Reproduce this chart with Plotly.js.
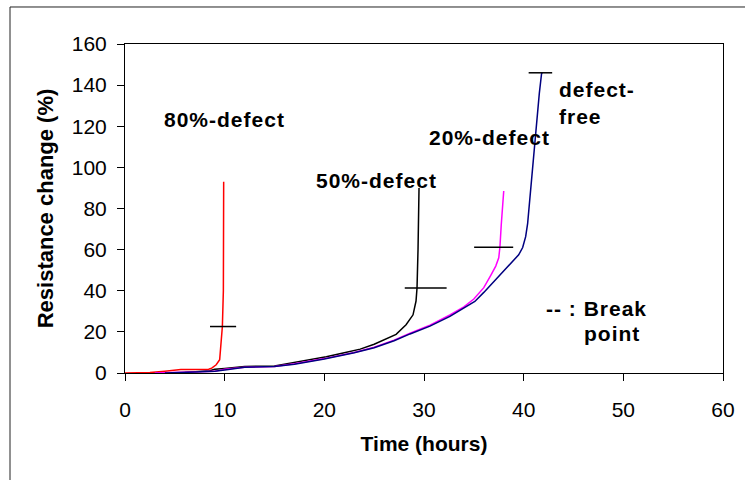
<!DOCTYPE html>
<html>
<head>
<meta charset="utf-8">
<script src="https://cdn.plot.ly/plotly-3.0.1.min.js"></script>
<style>html,body{margin:0;padding:0;background:#fff}#chart{width:745px;height:480px}</style>
</head>
<body>
<div id="chart"></div>
<script>
// 80%-defect (red)
var x80 = [0, 2.5, 4, 5.6, 7, 8.4, 8.7, 9.15, 9.5, 9.68, 9.77, 9.87, 9.9];
var y80 = [0, 0.2, 0.9, 1.7, 1.7, 1.8, 2.4, 4.0, 6.5, 16, 22.6, 40, 93];
// 50%-defect (black)
var x50 = [3, 6, 8.5, 9, 10, 12, 15, 17, 18, 20.2, 22, 23.6, 25, 27.2, 28.2, 28.9, 29.2, 29.3, 29.4, 29.5];
var y50 = [0, 0.3, 1.1, 1.8, 2.2, 3.2, 3.4, 5.0, 6.0, 7.9, 9.8, 11.6, 14, 18.8, 23.5, 28.3, 35, 41.3, 60, 90];
// 20%-defect (magenta)
var x20 = [3, 6, 9, 10, 12, 15, 17, 20, 23, 25, 27, 28.6, 30.6, 32.6, 34, 35, 36, 36.7, 37.2, 37.5, 37.62, 37.75, 37.9, 38];
var y20 = [0, 0.3, 0.8, 1.8, 2.8, 3.2, 4.5, 7, 10, 12.5, 16, 19.3, 23.3, 28.2, 32.2, 36, 41.5, 47.5, 52, 56, 61.4, 72, 82, 88.5];
// defect-free (navy)
var xFree = [4, 7, 9, 10, 12, 15, 17, 20, 23, 25, 27, 28.6, 30.6, 32.6, 34, 35.1, 36, 37, 38, 38.9, 39.5, 39.9, 40.2, 40.4, 40.6, 40.97, 41.3, 41.57, 41.8, 41.9];
var yFree = [0, 0.3, 0.8, 1.5, 2.8, 3.2, 4.3, 6.8, 9.8, 12.3, 15.7, 19, 22.8, 27.5, 31.5, 34.8, 39.2, 44.5, 49.5, 54.2, 57.5, 61, 66.3, 72.8, 84.1, 103.6, 119.8, 136, 145.8, 146];
// break points (horizontal markers)
var breakX0 = [8.53, 28.07, 35.03, 40.5];
var breakX1 = [11.15, 32.27, 38.95, 42.86];
var breakY = [22.6, 41.3, 61.2, 146];
// labels
var labelText = ["80%-defect", "50%-defect", "20%-defect"];
var labelX = [9.95, 25.2, 36.6];
var labelY = [123.5, 93.4, 114.6];
var xTicks = [0, 10, 20, 30, 40, 50, 60];
var yTicks = [0, 20, 40, 60, 80, 100, 120, 140, 160];

var traces = [
  {x: x80, y: y80, mode: 'lines', line: {color: '#FF0000', width: 1.5}},
  {x: x50, y: y50, mode: 'lines', line: {color: '#000000', width: 1.5}},
  {x: x20, y: y20, mode: 'lines', line: {color: '#FF00FF', width: 1.5}},
  {x: xFree, y: yFree, mode: 'lines', line: {color: '#000080', width: 1.5}}
];
for (var i = 0; i < breakY.length; i++) {
  traces.push({x: [breakX0[i], breakX1[i]], y: [breakY[i], breakY[i]], mode: 'lines',
    line: {color: '#000000', width: 1.5}, cliponaxis: false});
}

var fontFam = 'Liberation Sans, Arial, sans-serif';
var aFont = {family: fontFam, size: 21, color: '#000'};
function sp(t) { return '<span style="letter-spacing:1px"><b>' + t + '</b></span>'; }
var annots = [];
for (var j = 0; j < labelText.length; j++) {
  annots.push({x: labelX[j], y: labelY[j], xref: 'x', yref: 'y', text: sp(labelText[j]),
    showarrow: false, font: aFont});
}
annots.push({x: 43.31, y: 131.5, xref: 'x', yref: 'y', text: sp('defect-') + '<br>' + sp('free'), showarrow: false,
  xanchor: 'left', align: 'left', font: aFont});
annots.push({x: 47.3, y: 31.5, xref: 'x', yref: 'y', text: sp('-- : Break'), showarrow: false, font: aFont});
annots.push({x: 48.91, y: 19.2, xref: 'x', yref: 'y', text: sp('point'), showarrow: false, font: aFont});

var layout = {
  width: 745, height: 480,
  margin: {l: 125, r: 22, t: 44, b: 107, pad: 0},
  paper_bgcolor: '#fff', plot_bgcolor: '#fff',
  showlegend: false,
  font: {family: fontFam, color: '#000'},
  xaxis: {range: [0, 60], tickvals: xTicks, ticks: 'outside', ticklen: 7, tickwidth: 1, tickcolor: '#000',
    showline: true, linecolor: '#000', linewidth: 1, mirror: true, showgrid: false, zeroline: false,
    tickfont: {family: fontFam, size: 21, color: '#000'}, ticklabelstandoff: 11,
    title: {text: '<b>Time (hours)</b>', font: {family: fontFam, size: 21, color: '#000'}, standoff: 16}},
  yaxis: {range: [0, 160], tickvals: yTicks, ticks: 'outside', ticklen: 7, tickwidth: 1, tickcolor: '#000',
    showline: true, linecolor: '#000', linewidth: 1, mirror: true, showgrid: false, zeroline: false,
    tickfont: {family: fontFam, size: 21, color: '#000'}, ticklabelstandoff: 6,
    title: {text: '<b>Resistance change (%)</b>', font: {family: fontFam, size: 22, color: '#000'}, standoff: 12}},
  annotations: annots,
  shapes: [
    {type: 'line', xref: 'paper', yref: 'paper', x0: -0.1923, x1: 1.06, y0: 1.1125, y1: 1.1125, line: {color: '#222', width: 1}},
    {type: 'line', xref: 'paper', yref: 'paper', x0: -0.1923, x1: -0.1923, y0: 1.1125, y1: -0.36, line: {color: '#222', width: 1}}
  ]
};

Plotly.newPlot('chart', traces, layout, {displayModeBar: false, staticPlot: true});
</script>
</body>
</html>
